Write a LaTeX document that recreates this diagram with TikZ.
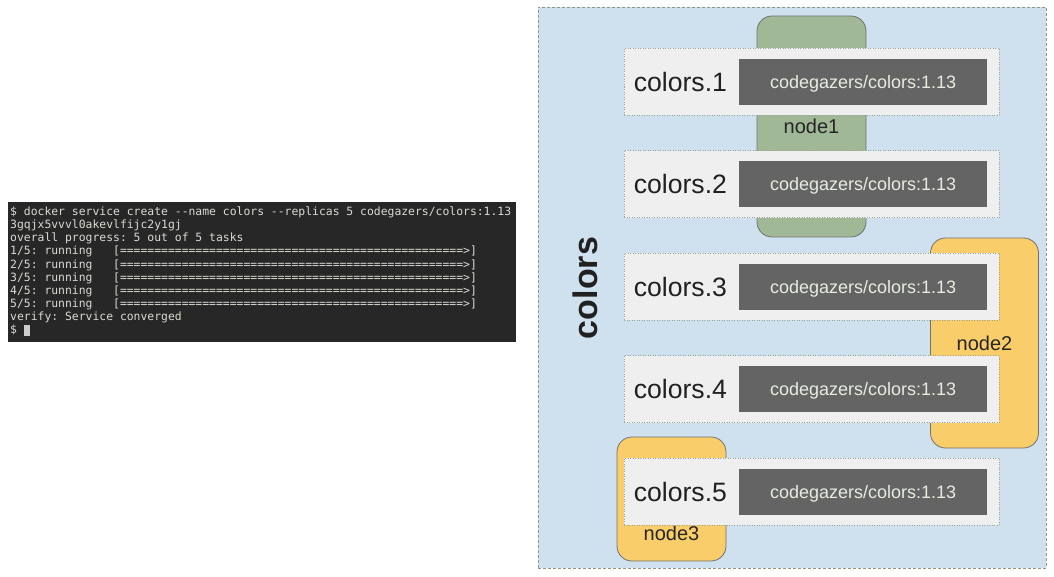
\documentclass[tikz,border=0pt]{standalone}
\usepackage{fontspec}
\setmainfont{Liberation Sans}
\setmonofont{DejaVu Sans Mono}
\usepackage{tikz}
\usetikzlibrary{positioning}

\definecolor{panelblue}{HTML}{CFE0EF}
\definecolor{panelline}{HTML}{8A9A82}
\definecolor{hostgreen}{HTML}{A0B896}
\definecolor{hostyellow}{HTML}{F9CD6A}
\definecolor{hostline}{HTML}{727272}
\definecolor{taskgray}{HTML}{EFEFEF}
\definecolor{taskline}{HTML}{9AA69A}
\definecolor{imagegray}{HTML}{646464}
\definecolor{imagetext}{HTML}{E6EDE0}
\definecolor{termback}{HTML}{272727}
\definecolor{termtext}{HTML}{D8DCD2}

\begin{document}
\begin{tikzpicture}[x=1pt, y=-1pt]
% STYLES
\tikzset{%
    panel/.style={%
rectangle,
fill=panelblue,
draw=panelline,
line width=0.8pt,
dash pattern=on 3pt off 2pt,
minimum width=508pt,
minimum height=561pt
                          },
    host/.style={%
rectangle,
rounded corners=15pt,
draw=hostline,
line width=0.8pt,
inner sep=0pt,
font=\fontsize{20pt}{24pt}\selectfont,
text=black!85
                          },
    hostlabel/.style={%
inner sep=0pt,
font=\fontsize{20pt}{24pt}\selectfont,
text=black!85
                          },
    task/.style={%
rectangle,
fill=taskgray,
draw=taskline,
line width=0.8pt,
dash pattern=on 1pt off 1.5pt,
minimum width=375pt,
minimum height=67pt
                          },
    tasklabel/.style={%
inner sep=0pt,
font=\fontsize{26.6pt}{30pt}\selectfont,
text=black!87
                          },
    image/.style={%
rectangle,
fill=imagegray,
inner sep=0pt,
text depth=0pt,
minimum width=248pt,
minimum height=46pt,
font=\fontsize{18pt}{22pt}\selectfont,
text=imagetext
                          },
    terminal/.style={%
rectangle,
fill=termback,
minimum width=508pt,
minimum height=140pt
                          },
    termtext/.style={%
inner sep=0pt,
align=left,
font=\ttfamily\fontsize{11.4pt}{13.15pt}\selectfont,
text=termtext
                          }
             }
\useasboundingbox (0,0) rectangle (1054,577);

% Draw terminal
\node [terminal, anchor=north west] (term) at (8,202) {};
\node [termtext, anchor=north west] (output) at ([shift={(2,4.5)}]term.north west)
{\$ docker service create --name colors --replicas 5 codegazers/colors:1.13\\
3gqjx5vvvl0akevlfijc2y1gj\\
overall progress: 5 out of 5 tasks\\
1/5: running\ \ \ [==================================================>]\\
2/5: running\ \ \ [==================================================>]\\
3/5: running\ \ \ [==================================================>]\\
4/5: running\ \ \ [==================================================>]\\
5/5: running\ \ \ [==================================================>]\\
verify: Service converged\\
\$ \textcolor{black!20}{\rule[-2pt]{6pt}{10.5pt}}};

% Draw service
\node [panel] (service) at (792,287.5) {};
\node [rotate=90, inner sep=0pt, font=\bfseries\fontsize{34pt}{40pt}\selectfont, text=black!87] (servicename) at (585,288) {colors};

% Draw hosts
\node [host, fill=hostgreen, minimum width=109pt, minimum height=221pt] (node1) at (811.5,126.5) {node1};
\node [host, fill=hostyellow, minimum width=108pt, minimum height=210pt] (node2) at (984.5,343) {node2};
\node [host, fill=hostyellow, minimum width=109pt, minimum height=124pt] (node3) at (671.5,499) {};
\node [hostlabel, above=21pt of node3.south] (node3name) {node3};

% Draw tasks
\node [task] (task1) at (811.5,82) {};
\node [task, below=34.6pt of task1] (task2) {};
\node [task, below=34.6pt of task2] (task3) {};
\node [task, below=34.6pt of task3] (task4) {};
\node [task, below=34.6pt of task4] (task5) {};

\node [tasklabel, right=10pt of task1.west] (name1) {colors.1};
\node [tasklabel, right=10pt of task2.west] (name2) {colors.2};
\node [tasklabel, right=10pt of task3.west] (name3) {colors.3};
\node [tasklabel, right=10pt of task4.west] (name4) {colors.4};
\node [tasklabel, right=10pt of task5.west] (name5) {colors.5};

\node [image, left=12pt of task1.east] (image1) {codegazers/colors:1.13};
\node [image, left=12pt of task2.east] (image2) {codegazers/colors:1.13};
\node [image, left=12pt of task3.east] (image3) {codegazers/colors:1.13};
\node [image, left=12pt of task4.east] (image4) {codegazers/colors:1.13};
\node [image, left=12pt of task5.east] (image5) {codegazers/colors:1.13};
\end{tikzpicture}
\end{document}
